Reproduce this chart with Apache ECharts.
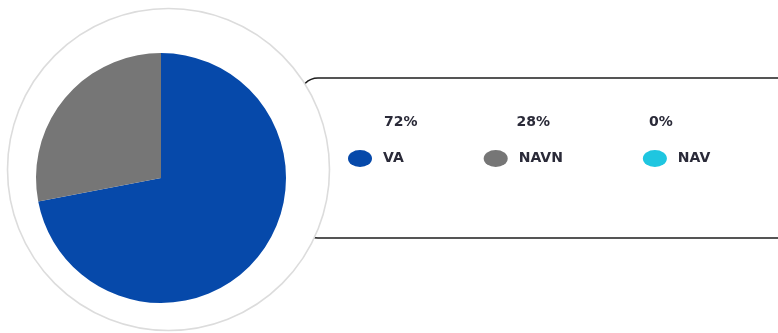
<!DOCTYPE html>
<html>
<head>
<meta charset="utf-8">
<script src="https://cdn.jsdelivr.net/npm/echarts@6/dist/echarts.min.js"></script>
<style>
  html, body { margin: 0; padding: 0; background: #fff; }
  #chart { width: 778px; height: 333px; }
</style>
</head>
<body>
<div id="chart"></div>
<script>
// Share of time by activity class
const categories = ['VA', 'NAVN', 'NAV'];
const values = [72, 28, 0];
const colors = ['#0649aa', '#767676', '#1fc6e0'];

const total = values.reduce((a, b) => a + b, 0);
const pctOf = {};
categories.forEach((c, i) => { pctOf[c] = Math.round(values[i] / total * 100) + '%'; });

const textStyle = {
  fontFamily: 'DejaVu Sans',
  fontWeight: 'bold',
  fontSize: 14,
  color: '#2a2a38'
};

const ellipsePath = 'path://M0,8.5A12,8.5,0,1,0,24,8.5A12,8.5,0,1,0,0,8.5Z';

const chart = echarts.init(document.getElementById('chart'), null, { renderer: 'canvas' });
chart.setOption({
  animation: false,
  color: colors,
  graphic: [
    {
      type: 'rect', z: 0,
      shape: { x: 300, y: 78, width: 560, height: 160, r: 18 },
      style: { fill: '#fff', stroke: '#1e1e1e', lineWidth: 1.6 }
    },
    {
      type: 'circle', z: 1,
      shape: { cx: 168.5, cy: 169.5, r: 161 },
      style: { fill: '#fff', stroke: '#dcdcdc', lineWidth: 1.6 }
    }
  ],
  legend: [
    {
      // swatches and names
      data: categories,
      left: 348, top: 150,
      padding: 0,
      orient: 'horizontal',
      itemWidth: 24, itemHeight: 17,
      itemGap: 80,
      icon: ellipsePath,
      selectedMode: false,
      textStyle: Object.assign({}, textStyle, { padding: [0, 0, 3, 6] })
    },
    {
      // percentage row above the names
      data: categories,
      left: 379, top: 115,
      padding: 0,
      orient: 'horizontal',
      itemWidth: 0, itemHeight: 14,
      itemGap: 94,
      icon: 'rect',
      selectedMode: false,
      formatter: name => pctOf[name],
      textStyle: textStyle
    }
  ],
  series: [{
    type: 'pie',
    z: 2,
    center: [161, 178],
    radius: 125,
    startAngle: 90,
    clockwise: true,
    label: { show: false },
    labelLine: { show: false },
    emphasis: { disabled: true },
    itemStyle: { borderWidth: 0 },
    data: categories.map((c, i) => ({ name: c, value: values[i] }))
  }]
});
</script>
</body>
</html>
